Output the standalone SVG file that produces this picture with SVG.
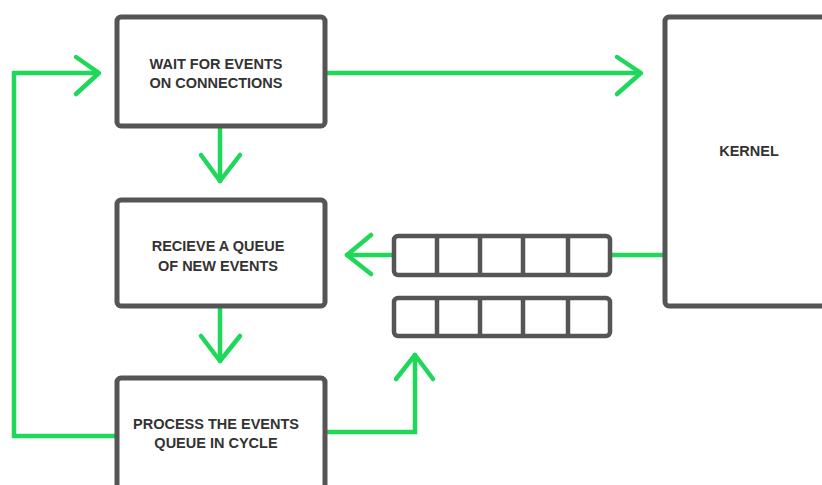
<svg xmlns="http://www.w3.org/2000/svg" width="822" height="485" viewBox="0 0 822 485">
<style>
.box{fill:#fff;stroke:#555;stroke-width:5}
.cell{fill:none;stroke:#555;stroke-width:4.5}
.ln{fill:none;stroke:#1fd85a;stroke-width:4.5;stroke-linecap:round;stroke-linejoin:miter}
.hd{fill:none;stroke:#1fd85a;stroke-width:4.5;stroke-linecap:round;stroke-linejoin:round}
text{font-family:"Liberation Sans",Arial,sans-serif;font-weight:bold;font-size:14.5px;fill:#333;text-anchor:middle}
</style>
<rect width="822" height="485" fill="#fff"/>
<g id="connectors">
<polyline class="ln" points="115,436 14,436 14,73 98,73"/>
<polyline class="hd" points="76,57 99,73 76,94"/>
<line class="ln" x1="327" y1="73" x2="640" y2="73"/>
<polyline class="hd" points="617,57 641,73 617,94"/>
<line class="ln" x1="220" y1="128" x2="220" y2="181"/>
<polyline class="hd" points="201,155 220,181 240,155"/>
<line class="ln" x1="220" y1="308" x2="220" y2="361"/>
<polyline class="hd" points="201,336 220,361 240,336"/>
<line class="ln" x1="663" y1="255" x2="612" y2="255"/>
<line class="ln" x1="392" y1="255" x2="347" y2="255"/>
<polyline class="hd" points="371,235 347,255 371,274"/>
<polyline class="ln" points="327,432 415,432 415,355"/>
<polyline class="hd" points="396,379 415,355 433,379"/>
</g>
<g id="wait">
<rect class="box" x="117" y="17" width="208" height="109" rx="4"/>
<text x="216" y="69">WAIT FOR EVENTS</text>
<text x="216" y="88">ON CONNECTIONS</text>
</g>
<g id="receive">
<rect class="box" x="117" y="200" width="208" height="106" rx="4"/>
<text x="218" y="251">RECIEVE A QUEUE</text>
<text x="218" y="271">OF NEW EVENTS</text>
</g>
<g id="process">
<rect class="box" x="117" y="378" width="208" height="112" rx="4"/>
<text x="216" y="429">PROCESS THE EVENTS</text>
<text x="216" y="448">QUEUE IN CYCLE</text>
</g>
<g id="kernel">
<rect class="box" x="665" y="17" width="170" height="289" rx="4"/>
<text x="749" y="156">KERNEL</text>
</g>
<g id="queue1">
<rect class="cell" x="394" y="236" width="216" height="39" rx="4"/>
<line class="cell" x1="437" y1="236" x2="437" y2="275"/>
<line class="cell" x1="480" y1="236" x2="480" y2="275"/>
<line class="cell" x1="523" y1="236" x2="523" y2="275"/>
<line class="cell" x1="568" y1="236" x2="568" y2="275"/>
</g>
<g id="queue2">
<rect class="cell" x="394" y="298" width="216" height="38" rx="4"/>
<line class="cell" x1="437" y1="298" x2="437" y2="336"/>
<line class="cell" x1="480" y1="298" x2="480" y2="336"/>
<line class="cell" x1="523" y1="298" x2="523" y2="336"/>
<line class="cell" x1="568" y1="298" x2="568" y2="336"/>
</g>
</svg>
